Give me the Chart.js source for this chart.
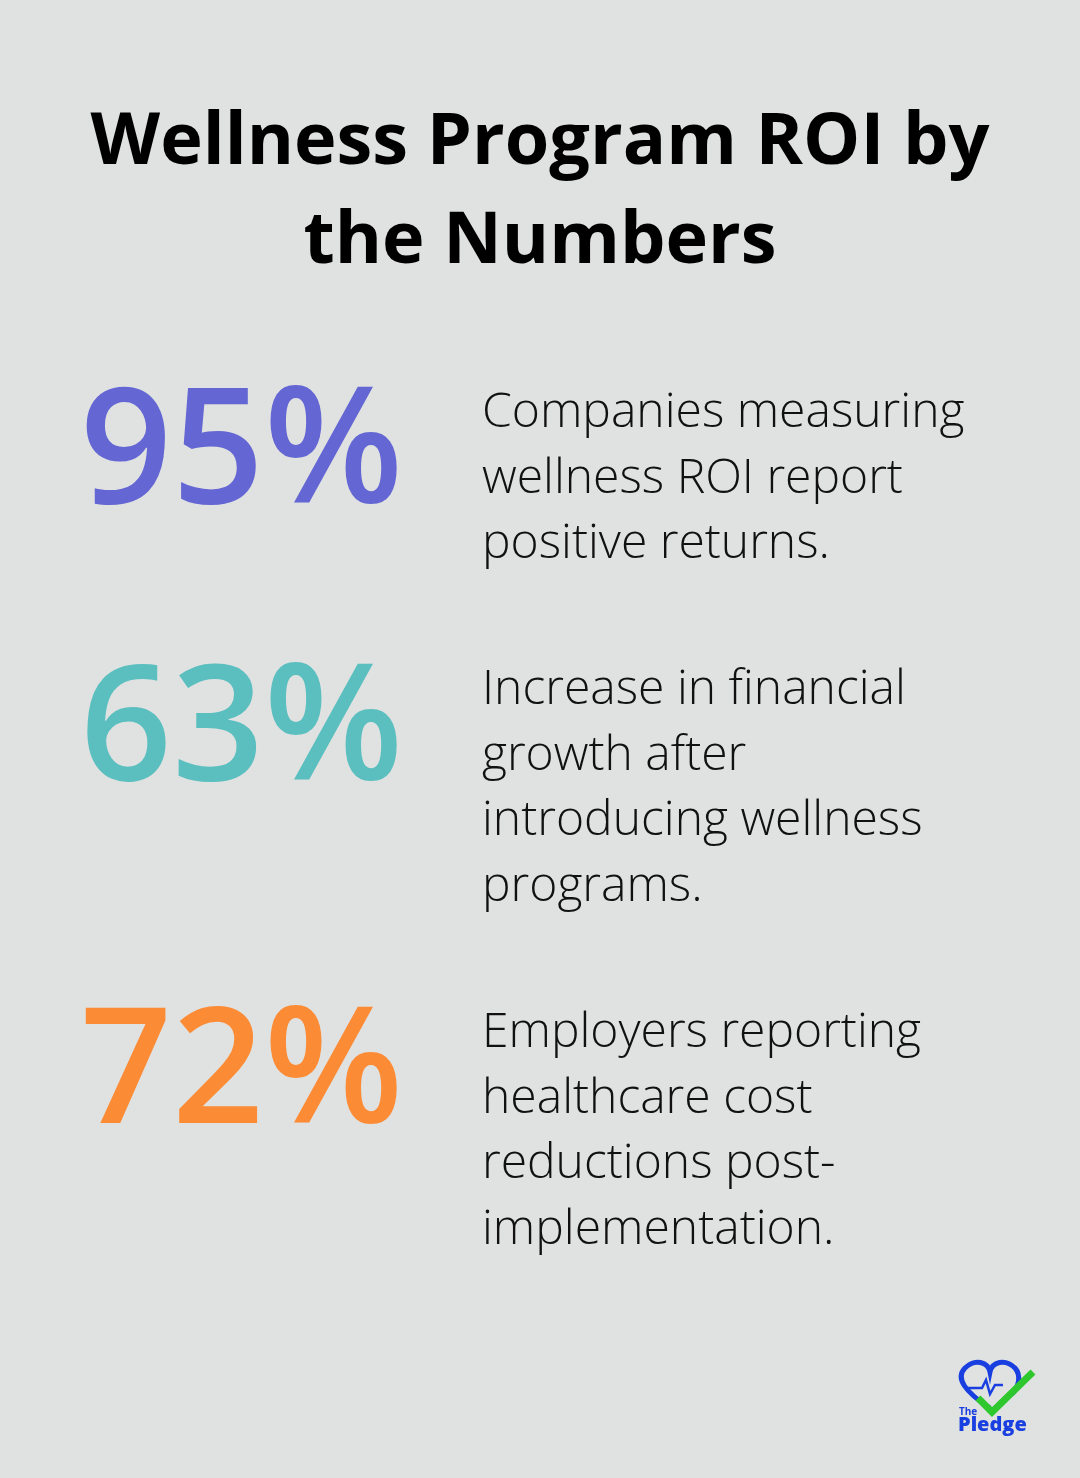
<!DOCTYPE html>
<html><head><meta charset="utf-8">
<script src="https://cdn.jsdelivr.net/npm/chart.js@4.4.1/dist/chart.umd.min.js"></script>
<style>html,body{margin:0;padding:0;background:#e0e2e1;}#wrap{width:1080px;height:1478px;position:relative;}</style>
</head><body><div id="wrap"><canvas id="c"></canvas></div>
<script>
const titleLines = ["Wellness Program ROI by", "the Numbers"];
const categories = ["Positive returns", "Financial growth", "Healthcare cost reductions"];
const values = [95, 63, 72];
const colors = ["#6466d3", "#5bbfc0", "#fc8b36"];
const descriptions = [
  ["Companies measuring", "wellness ROI report", "positive returns."],
  ["Increase in financial", "growth after", "introducing wellness", "programs."],
  ["Employers reporting", "healthcare cost", "reductions post-", "implementation."]
];
const blockTops = [385, 662, 1005];

const infoPlugin = {
  id: 'info',
  afterDraw(chart) {
    const ctx = chart.ctx;
    ctx.save();
    ctx.fillStyle = '#000';
    ctx.textAlign = 'center';
    ctx.textBaseline = 'alphabetic';
    ctx.font = '700 72px "Open Sans"';
    ctx.fillText(titleLines[0], 540, 164);
    ctx.fillText(titleLines[1], 540, 263);
    const ys = chart.scales.y;
    chart.data.datasets[0].data.forEach((v, i) => {
      const top = ys.getPixelForValue(i);
      ctx.textAlign = 'left';
      ctx.fillStyle = colors[i];
      ctx.font = '600 161px "Open Sans"';
      ctx.fillText(v + '%', 80, top + 118);
      ctx.fillStyle = '#111';
      ctx.font = '300 48px "Open Sans"';
      descriptions[i].forEach((l, j) => ctx.fillText(l, 482, top + 42 + j * 65.5));
    });
    // logo
    ctx.lineWidth = 5; ctx.strokeStyle = '#1a3fe0';
    ctx.beginPath();
    ctx.moveTo(990, 1408);
    ctx.bezierCurveTo(965, 1392, 955, 1378, 965, 1368);
    ctx.bezierCurveTo(975, 1358, 988, 1362, 990, 1372);
    ctx.bezierCurveTo(992, 1362, 1005, 1358, 1015, 1368);
    ctx.bezierCurveTo(1022, 1376, 1018, 1388, 1012, 1394);
    ctx.stroke();
    ctx.lineWidth = 2.5;
    ctx.beginPath(); ctx.moveTo(968,1388); ctx.lineTo(982,1388); ctx.lineTo(986,1380); ctx.lineTo(990,1394); ctx.lineTo(995,1385); ctx.lineTo(1003,1385); ctx.stroke();
    ctx.strokeStyle = '#2ec72e'; ctx.lineWidth = 7;
    ctx.beginPath(); ctx.moveTo(978,1398); ctx.lineTo(992,1412); ctx.lineTo(1033,1372); ctx.stroke();
    ctx.fillStyle = '#1a3fe0'; ctx.font = '700 10px "Open Sans"'; ctx.fillText('The', 959, 1415);
    ctx.font = '800 20px "Open Sans"'; ctx.fillText('Pledge', 958, 1431);
    ctx.restore();
  }
};

new Chart(document.getElementById('c'), {
  type: 'bar',
  data: { labels: categories, datasets: [{ data: values, backgroundColor: 'rgba(0,0,0,0)' }] },
  options: {
    responsive: true, maintainAspectRatio: false, animation: false,
    layout: { padding: 0 },
    plugins: { legend: { display: false }, tooltip: { enabled: false } },
    scales: {
      x: { display: false, min: 0, max: 100 },
      y: { display: false, type: 'linear', min: 0, max: 2 }
    }
  },
  plugins: [infoPlugin, {
    id: 'yfix',
    afterLayout(chart) {
      const y = chart.scales.y;
      y.getPixelForValue = (v) => blockTops[Math.round(v)];
    }
  }]
});
</script></body></html>
